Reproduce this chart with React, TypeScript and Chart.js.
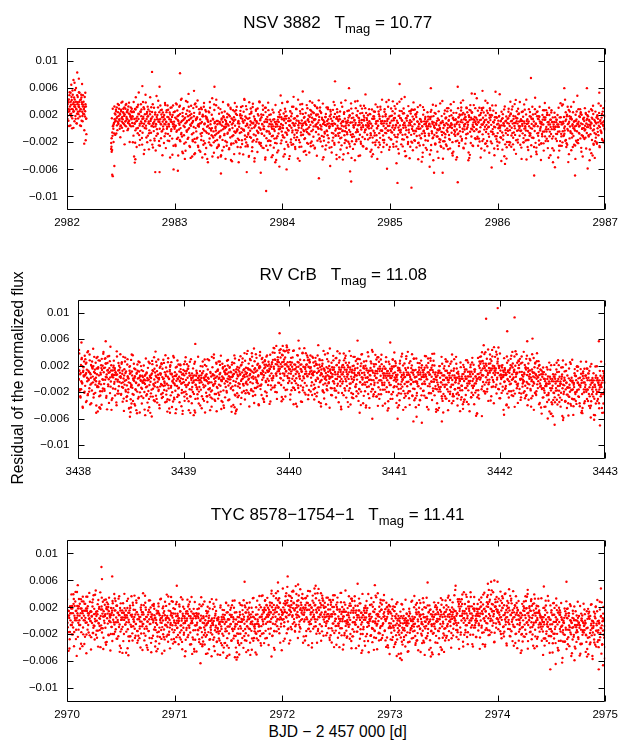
import React, { useEffect, useRef } from "react";
import { Chart, registerables } from "chart.js";

Chart.register(...registerables);

const FONT = "'Liberation Sans', Arial, Helvetica, sans-serif";

// Each character is one measurement (deviation from the local mean level),
// one letter step = LEVEL_STEP. Local mean levels are listed separately.
const LEVEL_CODES = "ABCDEFGHIJKLMNOPQRSTUVWXYZabcdefghijklmnopqrstuvw";
const LEVEL_STEP = 0.00035;

const yTicks = [-0.01, -0.006, -0.002, 0.002, 0.006, 0.01];
const yMin = -0.012;
const yMax = 0.012;

// second-cadence scatter patterns (deviation codes)
const noiseBank = [
  "eQYbhWcTaZgSdXjVaNcfYUbKZRdWaicTgXePbYdZLSaVcMhRXb",
  "gSdXjcTgXeeQYbhLSaVcYUbKZMhRXbWcTaZPbYdZVaNcfRdWai",
  "MhRXbVaNcfPbYdZWcTaZRdWaieQYbhLSaVcgSdXjcTgXeYUbKZ",
  "YUbKZLSaVcRdWaigSdXjPbYdZcTgXeVaNcfMhRXbeQYbhWcTaZ",
  "RdWaieQYbhMhRXbcTgXeWcTaZVaNcfYUbKZLSaVcPbYdZgSdXj",
  "PbYdZYUbKZWcTaZMhRXbLSaVcgSdXjeQYbhRdWaiVaNcfcTgXe",
  "WcTaZMhRXbVaNcfRdWaieQYbhPbYdZgSdXjcTgXeYUbKZLSaVc",
  "LSaVcgSdXjcTgXeeQYbhVaNcfYUbKZPbYdZWcTaZMhRXbRdWai",
  "VaNcfRdWaiLSaVcYUbKZgSdXjWcTaZMhRXbeQYbhcTgXePbYdZ",
  "cTgXePbYdZYUbKZVaNcfMhRXbLSaVcRdWaieQYbhWcTaZgSdXj",
  "aTgWdYjRbXhcUZQSiaVYNdfcWXkbTQZgeaOVYMcUdRhXaLbZfS",
  "hcUZQZgeaOaTgWddRhXaNdfcWLbZfSYjRbXVYMcUSiaVYXkbTQ",
  "LbZfSSiaVYVYMcUYjRbXXkbTQaTgWddRhXahcUZQZgeaONdfcW",
  "NdfcWdRhXaXkbTQhcUZQVYMcUZgeaOSiaVYLbZfSaTgWdYjRbX",
  "XkbTQaTgWdLbZfSZgeaOYjRbXSiaVYNdfcWdRhXaVYMcUhcUZQ",
  "VYMcUNdfcWYjRbXLbZfSdRhXahcUZQaTgWdXkbTQSiaVYZgeaO",
  "YjRbXLbZfSSiaVYXkbTQaTgWdVYMcUhcUZQZgeaONdfcWdRhXa",
  "dRhXahcUZQZgeaOaTgWdSiaVYNdfcWVYMcUYjRbXLbZfSXkbTQ",
  "SiaVYXkbTQdRhXaNdfcWhcUZQYjRbXLbZfSaTgWdZgeaOVYMcU",
  "ZgeaOVYMcUNdfcWSiaVYLbZfSdRhXaXkbTQaTgWdYjRbXhcUZQ",
];

// ---------------- Panel 1: NSV 3882 ----------------
const nsvName = "NSV 3882";
const nsvMag = "10.77";
const nsvXTicks = [2982, 2983, 2984, 2985, 2986, 2987];
const nsvEarlySpan = [2982.0, 2982.18];
const nsvEarly = ["bWeZdTgaYhcXeSiaZdfVcbWjaUgdZYcbhXeaTfdZVgcaYbXhNW"];
const nsvEarly2 = ["XcaVeZhbTdYfaWgcSZbeiXdaUYcfWbhdZTaegVcXbYdaRfZcbW"];
const nsvEarlyLevels = [0.003];
const nsvAfterGapSpan = [2982.41, 2983.0];
const nsvAfterGap = [
  "TVQWaZbXdcfhXiecgbjdZfahkcedgYbifcjaegdhZckbfeiadg",
  "eTgkNbhYmdRciZfoWaUgjebSXkdOhZcnaVfTiebQYgmcXdaSjb",
  "ZhUcfPamYeWkcTbRigaXdNfYceVjaQbgZiWdaTfMhcYbUeiRaZ",
];
const nsvAfterGap2 = [
  "RdXhaTbifWcgdaYjbehcfVagdZkbhfeSahcjdgYbifcTaegdhb",
  "dZVfcaSgbYhdWiceRaXfbgUcZdhaPebjYcfdVgbWaeTchZfdQa",
  "XbTeZaVdcWhbRfYcaUegXbZdSaciWbfYdTgaZcVebXhdNaZfbY",
];
const nsvAfterGapLevels = [0.0013, 0.001, 0.0007];
const nsvDaysSpan = [2983.0, 2987.0];
const nsvDays = [
  "YcQiWTfbMdXZhSaVkUeNbgRYcOjaWfTXmbQdZLhcVaSgYeTNib",
  "XUdkRaZPfcWhVbMeYTjaSgXQdZcKbWfUhaYRelVcXOgbTZiWQa",
  "cXSfbVhNYdaUkeRWgZMcbTfXjaQYeVhSdLZbWcOgaXfTiYRbcU",
  "aWeQhYTcbNfXkVdZSgaRcWMjeXbUfYQhaTdKcZVgbXOeWaSjYc",
  "TfXbRhZaWcMgdVYeQkaUbXSfcNZhWaRdYTjbVcPaeXgJfZnbUd",
  "ZaVfcQhXbTeWkYRdaNgcUZfXbSmaWdQYhcVeMaZbLgfXRcjaWY",
  "dUbPfYaXhcSeZWkaRgTdbYVfcQiaXeNhZbWcUgaTfYdRjcVbXa",
  "QfaYcWhTbZeJgdRXcaVkbSfYWdMhaZcTeXgQbVaiYcOfWdUaZb",
  "XgcTaYeRbWhdVfQaZcSkbXUeYgaNdcWfTZbhVaRecXYnaQdWbU",
  "aZcVfXbQhaTdYeWgSbcUZiaRfXdVhcPbYeWaTgcZfXbIdaYlQe",
  "bYeUcXgaRdWfZhaKcVbQeYkaXdSgcWfZUbmaNdYcVeTaXgbRfW",
  "cZaQhdXbUfYeWgcTaZbSjdVcXaPfYhbWeRcaZgUdXbJeaQhYcV",
  "WfbXaTgcYdQeZhbUaVcSfXdNaYgbWeTcZhaRdXfVbkcYaUeQlZ",
  "aXcTfYbWhdRaZeVgcUbXfQaYdScWhbZaLeMcXgdVfYaRbZcnhU",
  "dYaVgbXeTcZfQhaWdUbYcSeXagRfZbVdhcTaIeXWgbQcZofUdT",
  "XbZeTaYcVgdQfWbhaKcXeRZdYgbSaTfcWhXbVdQaZelUcYbTfa",
  "cWaYdRgbXeVcZhaUfMbdYQcaWgXeSbZdfVcaYmTbRgXaWdUecZ",
  "aTcXfYbQhdWeZaVgcUbNfYdaXhcReWbZgJaVcdXfYbaQeUkcWS",
  "bYcWeXaUgdTfZbLhcVaYeQdXbgWcZaSfUdYnbTcaXeVgRfZbWd",
  "ZcYaVfbXdIeWgcQaZhbUdYfSaXcgVbTeZdWaoRcYbXfUgaTcZe",
];
const nsvDaysSecond = [0, 11, 2, 13, 4, 15, 6, 17, 8, 19, 10, 1, 12, 3, 14, 5, 16, 7, 18, 9];
const nsvLevels = [
  0.0005, 0.0002, 0, 0.0003, 0, 0.0002, 0.0004, 0.0001, 0.0003, 0.0002,
  0.0003, 0.0001, 0, 0.0004, 0.0004, 0.0002, 0.0002, 0, 0.0002, 0.0003,
];
const nsvOutliers = [
  [2982.04, 0.0065], [2982.06, 0.0072], [2982.07, 0.0068], [2982.095, 0.0083], [2982.11, 0.0074], [2982.14, 0.0066],
  [2982.16, -0.0022], [2982.18, -0.0008],
  [2982.41, -0.003], [2982.415, -0.0034], [2982.42, -0.0068], [2982.425, -0.007], [2982.44, -0.0055],
  [2982.63, -0.005], [2982.635, -0.0045], [2982.7, 0.0063], [2982.79, 0.0084], [2982.82, -0.0064], [2982.86, -0.0064],
  [2982.86, 0.0062], [2982.99, -0.006], [2983.03, -0.0062], [2983.05, 0.0082], [2983.18, 0.0056], [2983.37, 0.0062],
  [2983.43, -0.0066], [2983.67, -0.0064], [2983.8, -0.0065], [2983.85, -0.0092], [2984.04, -0.006], [2984.19, 0.0055],
  [2984.34, -0.0073], [2984.49, 0.007], [2984.62, 0.006], [2984.63, -0.0063], [2984.64, -0.0078], [2985.07, -0.008],
  [2985.09, 0.0066], [2985.2, -0.0087], [2985.38, 0.006], [2985.41, -0.0065], [2985.49, -0.0065], [2985.63, 0.0062],
  [2985.63, -0.0079], [2985.76, 0.0052], [2985.86, 0.0056], [2986.02, 0.0051], [2986.31, 0.0075], [2986.34, -0.0069],
  [2986.62, 0.006], [2986.72, -0.0069], [2986.83, 0.006],
];

// ---------------- Panel 2: RV CrB ----------------
const rvcName = "RV CrB";
const rvcMag = "11.08";
const rvcXTicks = [3438, 3439, 3440, 3441, 3442, 3443];
const rvcSpan = [3438.0, 3443.0];
const rvcLines = [
  "cYjTaQeXhWMbdZSiVaOfcXRkYbUgNaeWTdZlQbYcSfXhaVKdgW",
  "XgRaeNcYUjbWTdhZQaLfcVYibSmXePZaUdgWcRbYOkaXTfVcZd",
  "bTYhcQWaMeZjVdSXgbUaNfcYRiXdWkaTZPbeVYcLgaXSdhUbZW",
  "eWZbSgaNYcjTdXQfVaOhbZUcKieWYRaXdmTbgQZcVaPfXcYhSb",
  "UaXhZdQcfVYMbjWaRegTXcOZbkaSYdVfNcXiaWTbQZgdYUcLae",
  "ZcRiVaXeSbYgNdWTcjaQXbfZUhcMYaedWSkbVXaPgcZTdiYbRa",
  "gXbUcZQeYaiTWdSbOVfcXjaRYZdhMbWeUaTcgXkNZbQfVadYSc",
  "YdTbZhWaQeXcVNfgaUYbjSWcLdZeRaXhcVbOYfTgZaWdkQcXbU",
  "aVcXeRZgWbTYhdQSaNfcYiXWbUeZMcdjTaVgXbPYZcfSaWhQbd",
  "TdZaXgbRYcVhWjaSeQcYXNdfUbZiaWcTMgbYVdeXaOcZkRbWhY",
  "XbeQZaVcgTYjdWSbMXaheUcZRYfbNdaWiTcXkVbQaZdYgOcSfe",
  "cSYbWhaZTVdRfXeQaYcmUbgWZNaXdeSVcPbiYaXTgZcfWdLbYa",
  "ZUdaXgcWTbYQheVaZSfcjXbMYdWaeRgZcTiXbVaOdYfkUcWZbQ",
  "bXQeZcaVgWTYdhSbUaXcNfZjYWdRbaTeMgcXZbiVQaYdWfcUkb",
  "YfWaTcZhRbXdVgQeYaSjcWNbZeXUdaiTbYcPgXfaZWcSdQhbVe",
  "WcZgYaSbeXTdQhcVaYkZfUbRXaNdjcWTeYbgOaZXcfSdVbiQaY",
  "dYaTXgcWeZQbVhSfaXcUdYjbRaZNeWgcTXbidYaQfVcZkSbWaM",
  "aQcYeXgWbVZdThRaUfcXYjbSeWaNZgcdVXbiQaTYefcWZbkUdS",
  "VeZcXaWgbTYdQhRaSfcUXbjYeWaZNdgcTViaXbYQefcZWbMdkU",
  "cXbWZgaYTeVdRhbQaXcfSYjUbWZdNaeXgcTVkbYaZiQWdfScbO",
  "jWaYSdeTZbhXcUVaNfYbgQXcZeWiRadYTbcMXkZaUfVWgeSbYP",
  "RZcgXaTYbfWedSjVXcQaZbhUNYdcWaiXeTgbSZkaVYcOfXdWbK",
  "YfeUcXWbQZahSgdVTjaYcXNbRZeWdiUcaYgTXbkVfSZaQWcdMh",
  "aWXdcTYgbQeZSVhaXcjRdUbYNaZfeWTcXigbVYaSdZkOcWQfbY",
  "SbZaeXhYcTdWgVQaRjcYbXfNUaZdeWiTcbXSYgaVkZQdcWOfYb",
];
const rvcSecond = [14, 7, 10, 5, 18, 1, 12, 9, 16, 3, 8, 11, 0, 17, 4, 19, 2, 15, 6, 13, 5, 18, 9, 12, 1];
const rvcLevels = [
  0.0003, 0.0003, -0.0004, -0.0005, -0.0005, -0.0005, -0.0004, 0, 0.0005, 0.0012,
  0.0008, 0.0005, 0.0004, 0.0003, 0.0002, 0, 0, -0.0004, -0.0006, 0.001,
  0.0003, 0, -0.001, -0.0012, -0.0012,
];
const rvcOutliers = [
  [3438.03, 0.0055], [3438.17, -0.0051], [3438.2, -0.0043], [3438.21, -0.0045], [3438.26, 0.0057],
  [3438.49, -0.0057], [3438.495, -0.005], [3438.5, -0.0043], [3438.505, -0.0037], [3438.87, -0.0051],
  [3439.11, 0.0053], [3439.49, -0.0052], [3439.91, 0.0069], [3439.92, 0.0045], [3439.94, 0.005],
  [3439.96, 0.0042], [3439.98, 0.0048], [3440.0, 0.0044], [3440.09, 0.0058], [3440.65, 0.0058],
  [3440.67, -0.0051], [3440.79, -0.006], [3440.96, 0.0055], [3441.03, -0.006], [3441.18, -0.0064],
  [3441.21, -0.0057], [3441.26, -0.0066], [3441.45, -0.0064], [3441.83, -0.0056], [3441.87, 0.0091],
  [3441.98, 0.0107], [3442.04, -0.0054], [3442.07, 0.0072], [3442.14, 0.0093], [3442.26, 0.0057],
  [3442.31, 0.0061], [3442.52, -0.0069], [3442.6, -0.0062], [3442.94, 0.0057], [3442.95, -0.007],
];

// ---------------- Panel 3: TYC 8578-1754-1 ----------------
const tycName = "TYC 8578\u22121754\u22121";
const tycMag = "11.41";
const tycXTicks = [2970, 2971, 2972, 2973, 2974, 2975];
const tycSpan = [2970.0, 2975.0];
const tycLines = [
  "hXaTcZQeYbjWdSVfNaZgcUYkbRXeWaMdhTZcbVgaOYfXdScieW",
  "TbZgYcRaXehVWdQjbSaYcfNXdZUkaWeTbgMcYXaVhdPZbfScYa",
  "aYeWcQgZbTXidVaRfcYSbjXeUNaZdWgcTkbXaLYheVcZQdfSbW",
  "XcRgaZbWeTYhdQVcjaSXbfUZcNdYgaWkTeXbOZcViaYdfQbScg",
  "ZgWcXbRaeYTdhVQcaZjSbXfUdWNcYagTbXZkeVaOYcdiWbQfSZ",
  "WdYhTaXcZQbgVeSYaRjcXUfbZNdWaeTgYcXiVbQkaZdSfOcYWb",
  "eZaVXcgTYbRdhWQaScYjXbUfZeNaWcdgTYXbkVaZiQcOdYfWSb",
  "YcWaTXhbZdRgeVQcaSYjbXUfcZWNegadTiYXbcVkZaQfOWdSYb",
  "QeYhXbaTdWjcZSgVNaYfcUXbiRZdWOaeckTYXbVgMZdaSfYhWc",
  "dVZaiXSbcYgTWeQhaZNcXfbUYkdRWaeTLcZjXbVYgdaSfOcWYb",
  "YjbWTaZcXhQdeVSgaYNbZcfXUidWaRTkYcbZOegXVaSdcfWYMb",
  "ZaXgcQYbheTWdVjSaXcNfYbZUdiWgRaXcTkbYVeZOaSgfdXcWY",
  "cWXaTYfbZhQdSgVaeXjcNbYZUfWdiRaXTcYkgbVeZaOdScfWYX",
  "bZYcWaXgTfQdhVSeaYjXcNZbUfWdiaRgTXcYkbVZeaOfScdWYQ",
  "YXbZcaTgWQfdhSVeYajXNcbZUfdWiRagXTYckbVeZOaSfdcWYL",
  "fYaWcTgZbQXhdSVeajYcNXbZfUdWiRagTYXckVbeZOSadfWcYb",
  "XYcaTbgWZQhfdSVaeYjcXNbZUfWdiRgaXTYkcbVZeOaSfdWYcM",
  "aYbXcWgTZfQdhVSaeYjcNXbZUfWdRiagTXYckVbeZaOSfcdWYb",
  "ZcYXaWbTgQfhdVSeYajcNXZbfUWdiRaTgXcYbkVZeOaSdfcWYX",
  "YaXbcTWgZQdfhVSaeYcjXNbZUfWidRaTgXYckbVeZaOSdfWcYb",
  "cYXbaWTgZQfdhSVeaYjXcNZbUfdWRiagTXYckVbZeOaSfdWcYP",
  "bXYacTWgQZfhdSVaeYjcNXbZfUWdiRaTgXYkcVbeZOaSfWdcYb",
  "YcXbaWgTZQdfhVSeaYjcXNZbUfWdRiaTgXYckbVZeOSafdWYcb",
  "aXYcbTWgZfQhdSVeaYjXcNbZUfdWiRagXTYckVbeZaOSfdcWYb",
  "XaYcbWTgQZhfdVSeYajcNXZbUWfdiRagTXYcbkVZeOaSdfWcYM",
];
const tycSecond = [3, 16, 7, 10, 19, 0, 13, 6, 11, 2, 15, 8, 17, 4, 12, 1, 18, 9, 14, 5, 10, 3, 16, 7, 19];
const tycLevels = [
  0.0005, 0.0004, 0.0002, 0, -0.0002, -0.0003, -0.0006, -0.0008, -0.0004, 0.0006,
  0.0013, 0.001, 0.0004, 0.0002, 0, -0.0006, -0.0004, 0, 0.0005, 0.0008,
  0.0006, 0.0002, -0.0004, -0.0009, -0.001,
];
const tycOutliers = [
  [2970.09, -0.0052], [2970.1, 0.0053], [2970.18, -0.0048], [2970.32, 0.008], [2970.325, 0.0062],
  [2970.42, 0.0066], [2970.49, -0.0046], [2970.57, -0.0051], [2971.02, 0.0052], [2971.24, -0.0063],
  [2971.4, -0.005], [2971.48, -0.0055], [2971.49, -0.0052], [2971.56, -0.0054], [2971.6, -0.005],
  [2971.65, 0.0058], [2971.9, -0.0053], [2971.96, 0.0057], [2972.05, 0.0066], [2972.31, 0.0052],
  [2972.7, 0.0055], [2972.86, 0.0053], [2973.11, -0.0058], [2973.35, 0.0057], [2973.38, -0.0053],
  [2973.61, 0.0052], [2973.91, 0.0055], [2973.94, 0.0058], [2973.97, 0.006], [2974.0, 0.0058],
  [2974.28, 0.0046], [2974.43, 0.0051], [2974.49, -0.0072], [2974.54, -0.0064], [2974.6, -0.0062],
  [2974.64, 0.0058], [2974.94, -0.0072], [2974.96, 0.0048], [2974.98, -0.0066],
];

type Pt = { x: number; y: number };

function decodeLine(codes: string, start: number, end: number, level: number, phase: number): Pt[] {
  const ks: number[] = [];
  for (const ch of codes) {
    const k = LEVEL_CODES.indexOf(ch);
    if (k >= 0) ks.push(k);
  }
  const n = ks.length;
  if (!n) return [];
  const mean = ks.reduce((s, k) => s + k, 0) / n;
  return ks.map((k, i) => ({ x: start + ((i + phase) * (end - start)) / n, y: level + (k - mean) * LEVEL_STEP }));
}

function decodeSpan(lines: string[], span: number[], levels: number[], phase: number): Pt[] {
  const out: Pt[] = [];
  const w = (span[1] - span[0]) / lines.length;
  lines.forEach((line, i) => {
    out.push(...decodeLine(line, span[0] + i * w, span[0] + (i + 1) * w, levels[i] ?? 0, phase));
  });
  return out;
}

function fromPairs(pairs: number[][]): Pt[] {
  return pairs.map((p) => ({ x: p[0], y: p[1] }));
}

function pick(order: number[]): string[] {
  return order.map((i) => noiseBank[i]);
}

function fmtY(v: number): string {
  const a = Math.abs(v);
  const s = Math.abs(a - 0.01) < 1e-9 ? "0.01" : a.toFixed(3);
  return v < 0 ? "\u2212" + s : s;
}

const framePlugin = {
  id: "gnuFrame",
  afterDatasetsDraw(chart: any) {
    const { ctx, chartArea: a, scales } = chart;
    const L = Math.round(a.left) + 0.5;
    const R = Math.round(a.right) - 0.5;
    const T = Math.round(a.top) + 0.5;
    const B = Math.round(a.bottom) - 0.5;
    const tl = 6;
    ctx.save();
    ctx.strokeStyle = "#000";
    ctx.lineWidth = 1;
    ctx.beginPath();
    ctx.rect(L, T, R - L, B - T);
    for (const t of scales.x.ticks) {
      const px = Math.round(scales.x.getPixelForValue(t.value)) + 0.5;
      ctx.moveTo(px, B);
      ctx.lineTo(px, B - tl);
      ctx.moveTo(px, T);
      ctx.lineTo(px, T + tl);
    }
    for (const t of scales.y.ticks) {
      const py = Math.round(scales.y.getPixelForValue(t.value)) + 0.5;
      ctx.moveTo(L, py);
      ctx.lineTo(L + tl, py);
      ctx.moveTo(R, py);
      ctx.lineTo(R - tl, py);
    }
    ctx.stroke();
    ctx.restore();
  },
};

type PanelProps = {
  top: number;
  height: number;
  area: { left: number; right: number; top: number; bottom: number };
  xTicks: number[];
  points: Pt[];
};

function Panel({ top, height, area, xTicks, points }: PanelProps) {
  const ref = useRef<HTMLCanvasElement | null>(null);
  useEffect(() => {
    const canvas = ref.current;
    if (!canvas) return;
    const chart = new Chart(canvas, {
      type: "scatter",
      data: {
        datasets: [
          {
            data: points,
            pointRadius: 1.2,
            pointHoverRadius: 1.2,
            pointBorderWidth: 0,
            pointBackgroundColor: "#ff0000",
            backgroundColor: "#ff0000",
            borderWidth: 0,
          },
        ],
      },
      options: {
        animation: false,
        responsive: false,
        maintainAspectRatio: false,
        devicePixelRatio: 1,
        events: [],
        layout: { padding: { left: 0, right: 624 - area.right, top: area.top, bottom: 0 } },
        plugins: { legend: { display: false }, tooltip: { enabled: false }, title: { display: false } },
        scales: {
          x: {
            type: "linear",
            min: xTicks[0],
            max: xTicks[xTicks.length - 1],
            grid: { display: false, drawTicks: false },
            border: { display: false },
            afterBuildTicks: (s: any) => {
              s.ticks = xTicks.map((v) => ({ value: v }));
            },
            afterFit: (s: any) => {
              s.height = height - area.bottom;
            },
            ticks: {
              autoSkip: false,
              maxRotation: 0,
              minRotation: 0,
              padding: 6,
              color: "#000",
              font: { family: FONT, size: 11.5 },
              callback: (v: any) => String(v),
            },
          },
          y: {
            type: "linear",
            min: yMin,
            max: yMax,
            grid: { display: false, drawTicks: false },
            border: { display: false },
            afterBuildTicks: (s: any) => {
              s.ticks = yTicks.map((v) => ({ value: v }));
            },
            afterFit: (s: any) => {
              s.width = area.left;
            },
            ticks: {
              padding: 9,
              color: "#000",
              font: { family: FONT, size: 11.5 },
              callback: (v: any) => fmtY(Number(v)),
            },
          },
        },
      } as any,
      plugins: [framePlugin],
    });
    return () => chart.destroy();
  }, []);
  return (
    <canvas
      ref={ref}
      width={624}
      height={height}
      style={{ position: "absolute", left: 0, top, width: 624, height, display: "block" }}
    />
  );
}

function Title({ cx, baseline, name, mag }: { cx: number; baseline: number; name: string; mag: string }) {
  return (
    <div
      style={{
        position: "absolute",
        left: cx - 250,
        width: 500,
        top: baseline - 14.4,
        textAlign: "center",
        fontFamily: FONT,
        fontSize: 17,
        lineHeight: "17px",
        whiteSpace: "pre",
        color: "#000",
      }}
    >
      {name + "   T"}
      <span style={{ fontSize: 13, position: "relative", top: 5 }}>mag</span>
      {" = " + mag}
    </div>
  );
}

export default function App() {
  const p1 = [
    ...decodeSpan(nsvEarly, nsvEarlySpan, nsvEarlyLevels, 0.25),
    ...decodeSpan(nsvEarly2, nsvEarlySpan, nsvEarlyLevels, 0.75),
    ...decodeSpan(nsvAfterGap, nsvAfterGapSpan, nsvAfterGapLevels, 0.25),
    ...decodeSpan(nsvAfterGap2, nsvAfterGapSpan, nsvAfterGapLevels, 0.75),
    ...decodeSpan(nsvDays, nsvDaysSpan, nsvLevels, 0.25),
    ...decodeSpan(pick(nsvDaysSecond), nsvDaysSpan, nsvLevels, 0.75),
    ...fromPairs(nsvOutliers),
  ];
  const p2 = [
    ...decodeSpan(rvcLines, rvcSpan, rvcLevels, 0.25),
    ...decodeSpan(pick(rvcSecond), rvcSpan, rvcLevels, 0.75),
    ...fromPairs(rvcOutliers),
  ];
  const p3 = [
    ...decodeSpan(tycLines, tycSpan, tycLevels, 0.25),
    ...decodeSpan(pick(tycSecond), tycSpan, tycLevels, 0.75),
    ...fromPairs(tycOutliers),
  ];

  return (
    <div style={{ position: "absolute", left: 0, top: 0, width: 624, height: 740, background: "#fff", overflow: "hidden" }}>
      <Panel top={0} height={240} area={{ left: 67, right: 608.5, top: 47.5, bottom: 210 }} xTicks={nsvXTicks} points={p1} />
      <Panel top={250} height={240} area={{ left: 78.3, right: 608.3, top: 49.5, bottom: 208.5 }} xTicks={rvcXTicks} points={p2} />
      <Panel top={490} height={232} area={{ left: 67, right: 608.3, top: 50, bottom: 211.7 }} xTicks={tycXTicks} points={p3} />
      <Title cx={337.75} baseline={28.3} name={nsvName} mag={nsvMag} />
      <Title cx={343.3} baseline={280.7} name={rvcName} mag={rvcMag} />
      <Title cx={337.65} baseline={520} name={tycName} mag={tycMag} />
      <div
        style={{
          position: "absolute",
          left: 18 - 150,
          top: 378.3 - 8,
          width: 300,
          height: 16,
          lineHeight: "16px",
          textAlign: "center",
          fontFamily: FONT,
          fontSize: 15.6,
          color: "#000",
          whiteSpace: "nowrap",
          transform: "rotate(-90deg)",
          transformOrigin: "50% 50%",
        }}
      >
        Residual of the normalized flux
      </div>
      <div
        style={{
          position: "absolute",
          left: 337.65 - 200,
          top: 737.7 - 13.4,
          width: 400,
          lineHeight: "16px",
          textAlign: "center",
          fontFamily: FONT,
          fontSize: 15.6,
          color: "#000",
          whiteSpace: "pre",
        }}
      >
        {"BJD \u2212 2 457 000 [d]"}
      </div>
    </div>
  );
}
